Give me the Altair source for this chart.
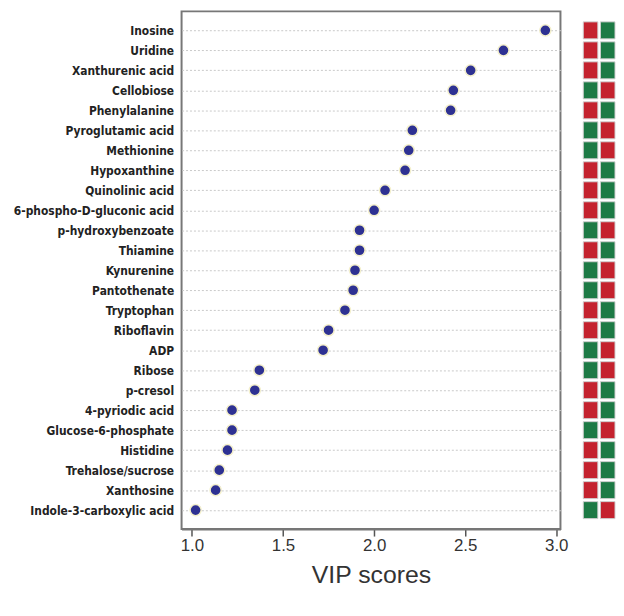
import altair as alt
import pandas as pd

metabolites = [
    "Inosine", "Uridine", "Xanthurenic acid", "Cellobiose", "Phenylalanine",
    "Pyroglutamic acid", "Methionine", "Hypoxanthine", "Quinolinic acid",
    "6-phospho-D-gluconic  acid", "p-hydroxybenzoate", "Thiamine", "Kynurenine",
    "Pantothenate", "Tryptophan", "Riboflavin", "ADP", "Ribose", "p-cresol",
    "4-pyriodic acid", "Glucose-6-phosphate", "Histidine", "Trehalose/sucrose",
    "Xanthosine", "Indole-3-carboxylic acid",
]
vip = [2.94, 2.71, 2.53, 2.435, 2.42, 2.21, 2.19, 2.17, 2.06, 2.00, 1.92, 1.92,
       1.895, 1.885, 1.84, 1.75, 1.72, 1.37, 1.345, 1.22, 1.22, 1.195, 1.15, 1.13, 1.02]
# heat strip states for the two columns
col1 = ["R", "R", "R", "G", "R", "G", "G", "R", "R", "R", "G", "R", "G",
        "G", "R", "R", "G", "G", "R", "R", "G", "R", "R", "R", "G"]
col2 = ["G", "G", "G", "R", "G", "R", "R", "G", "G", "G", "R", "G", "R",
        "R", "G", "G", "R", "R", "G", "G", "R", "G", "G", "G", "R"]
groups = ["A", "B"]

df = pd.DataFrame({"metabolite": metabolites, "vip": vip})
heat = pd.DataFrame(
    [{"metabolite": m, "group": groups[0], "state": a} for m, a in zip(metabolites, col1)]
    + [{"metabolite": m, "group": groups[1], "state": b} for m, b in zip(metabolites, col2)]
)

H = 522
label_font = "Liberation Sans Narrow, Arial Narrow, DejaVu Sans Condensed, sans-serif"

y_enc = alt.Y(
    "metabolite:N", sort=metabolites,
    scale=alt.Scale(type="point", padding=0.95),
    axis=alt.Axis(title=None, ticks=False, domain=False, labelFontWeight="bold",
                  labelFontSize=12, labelFont=label_font, labelColor="#222",
                  labelPadding=8, grid=True, gridDash=[2, 2], gridColor="#c8c8c8",
                  gridWidth=1),
)

dots = alt.Chart(df).mark_circle(size=125, color="#2e3192", opacity=1,
                                 stroke="#f4f0cc", strokeWidth=1.5).encode(
    x=alt.X("vip:Q", scale=alt.Scale(domain=[0.943, 3.023], nice=False, zero=False),
            axis=alt.Axis(title="VIP scores", values=[1.0, 1.5, 2.0, 2.5, 3.0], format=".1f",
                          grid=False, tickSize=7, tickWidth=1.5, tickColor="#555",
                          domainColor="#777", domainWidth=2,
                          labelFontSize=17, labelColor="#333", labelPadding=2,
                          labelFont="Liberation Sans",
                          titleFontSize=25, titleFontWeight="normal", titleColor="#333",
                          titleFont="Liberation Sans", titlePadding=9)),
    y=y_enc,
).properties(width=382, height=H, view=alt.ViewConfig(stroke="#777", strokeWidth=2))

po = 0.95 - (1 - 0.15) / 2
strip = alt.Chart(heat).mark_rect(stroke="#cfcfcf", strokeWidth=1).encode(
    x=alt.X("group:N", scale=alt.Scale(paddingInner=0.15, paddingOuter=0), axis=None),
    y=alt.Y("metabolite:N", sort=metabolites,
            scale=alt.Scale(paddingInner=0.15, paddingOuter=po), axis=None),
    color=alt.Color("state:N", scale=alt.Scale(domain=["R", "G"], range=["#c4222e", "#1d7a45"]),
                    legend=None),
).properties(width=32, height=H, view=alt.ViewConfig(strokeOpacity=0))

chart = alt.hconcat(dots, strip, spacing=13).properties(
    padding={"left": 0, "top": 0, "right": 0, "bottom": 0}
).configure(background="white")

chart.save("out.html", embed_options={"renderer": "svg", "actions": False})
